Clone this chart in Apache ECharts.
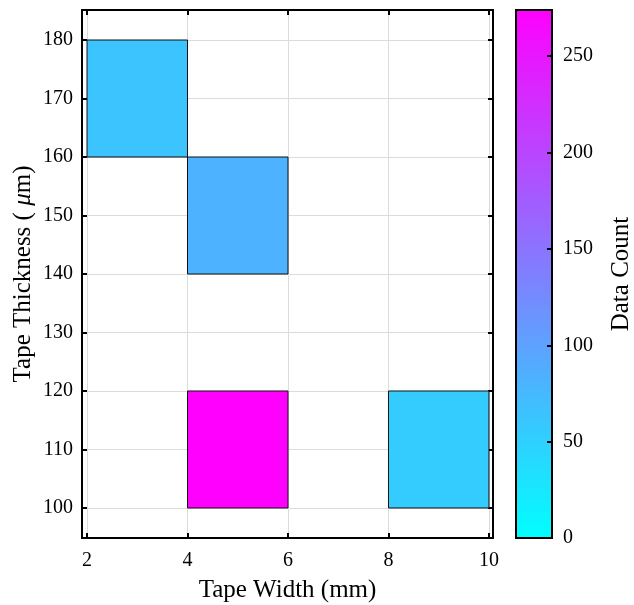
<!DOCTYPE html>
<html>
<head>
<meta charset="utf-8">
<script src="https://cdn.jsdelivr.net/npm/echarts@6/dist/echarts.min.js"></script>
<style>html,body{margin:0;padding:0;background:#fff}#c{width:634px;height:605px}</style>
</head>
<body>
<div id="c"></div>
<script>
// Data
const cellX0 = [2, 4, 4, 8];
const cellX1 = [4, 6, 6, 10];
const cellY0 = [160, 140, 100, 100];
const cellY1 = [180, 160, 120, 120];
const counts = [63, 83, 274, 56];
const xTicks = [2, 4, 6, 8, 10];
const yTicks = [100, 110, 120, 130, 140, 150, 160, 170, 180];
const cbTicks = [0, 50, 100, 150, 200, 250];
const cbMax = 274;

const FONT = 'Liberation Serif';
const cells = counts.map((v, i) => [cellX0[i], cellX1[i], cellY0[i], cellY1[i], v]);

const X_MIN = 1.9, X_MAX = 10.08, Y_MIN = 94.87, Y_MAX = 185.13;

function tick(vals) {
  return { show: true, inside: true, length: 5, customValues: vals, lineStyle: { color: '#000', width: 2 } };
}
const line = { show: true, onZero: false, lineStyle: { color: '#000', width: 2 } };

const chart = echarts.init(document.getElementById('c'), null, { renderer: 'canvas' });
chart.setOption({
  backgroundColor: '#fff',
  animation: false,
  grid: [
    { left: 82, top: 10, width: 411, height: 528, containLabel: false, outerBoundsMode: 'none' },
    { left: 516, top: 10, width: 36, height: 528, containLabel: false, outerBoundsMode: 'none' }
  ],
  visualMap: {
    type: 'continuous', show: false, min: 0, max: cbMax, dimension: 4, seriesIndex: 0,
    inRange: { color: ['#00ffff', '#ff00ff'] }
  },
  xAxis: [
    {
      type: 'value', gridIndex: 0, position: 'bottom', min: X_MIN, max: X_MAX,
      axisLine: line,
      axisTick: tick(xTicks),
      axisLabel: { show: true, customValues: xTicks, color: '#000', fontFamily: FONT, fontSize: 20, margin: 13 },
      splitLine: { show: true, lineStyle: { color: '#dcdcdc', width: 1 } },
      name: 'Tape Width (mm)', nameLocation: 'middle', nameGap: 40, nameMoveOverlap: false,
      nameTextStyle: { color: '#000', fontFamily: FONT, fontSize: 25 }
    },
    {
      type: 'value', gridIndex: 0, position: 'top', min: X_MIN, max: X_MAX,
      axisLine: line,
      axisTick: tick(xTicks),
      axisLabel: { show: false },
      splitLine: { show: false }
    },
    { type: 'value', gridIndex: 1, min: 0, max: 1, show: false }
  ],
  yAxis: [
    {
      type: 'value', gridIndex: 0, position: 'left', min: Y_MIN, max: Y_MAX,
      axisLine: line,
      axisTick: tick(yTicks),
      axisLabel: { show: true, customValues: yTicks, color: '#000', fontFamily: FONT, fontSize: 20, margin: 9 },
      splitLine: { show: true, lineStyle: { color: '#dcdcdc', width: 1 } },
      name: 'Tape Thickness ( {i|μ}m)', nameLocation: 'middle', nameGap: 46, nameRotate: 90, nameMoveOverlap: false,
      nameTextStyle: { color: '#000', fontFamily: FONT, fontSize: 25,
        rich: { i: { fontStyle: 'italic', fontFamily: FONT, fontSize: 25, color: '#000' } } }
    },
    {
      type: 'value', gridIndex: 0, position: 'right', min: Y_MIN, max: Y_MAX,
      axisLine: line,
      axisTick: tick(yTicks),
      axisLabel: { show: false },
      splitLine: { show: false }
    },
    {
      type: 'value', gridIndex: 1, position: 'right', min: 0, max: cbMax, z: 10,
      axisLine: line,
      axisTick: tick(cbTicks),
      axisLabel: { show: true, customValues: cbTicks, color: '#000', fontFamily: FONT, fontSize: 20, margin: 11 },
      splitLine: { show: false },
      name: 'Data Count', nameLocation: 'middle', nameGap: 57, nameRotate: 90, nameMoveOverlap: false,
      nameTextStyle: { color: '#000', fontFamily: FONT, fontSize: 25 }
    }
  ],
  series: [
    {
      type: 'custom',
      xAxisIndex: 0, yAxisIndex: 0,
      data: cells,
      encode: { x: [0, 1], y: [2, 3] },
      renderItem: function (params, api) {
        const p0 = api.coord([api.value(0), api.value(3)]);
        const p1 = api.coord([api.value(1), api.value(2)]);
        return {
          type: 'rect',
          shape: { x: p0[0], y: p0[1], width: p1[0] - p0[0], height: p1[1] - p0[1] },
          style: { fill: api.visual('color'), stroke: '#111', lineWidth: 1 }
        };
      },
      z: 3
    },
    {
      type: 'custom',
      xAxisIndex: 2, yAxisIndex: 2,
      data: [[0, 1, 0, cbMax]],
      encode: { x: [0, 1], y: [2, 3] },
      renderItem: function (params, api) {
        const p0 = api.coord([api.value(0), api.value(3)]);
        const p1 = api.coord([api.value(1), api.value(2)]);
        return {
          type: 'rect',
          shape: { x: p0[0], y: p0[1], width: p1[0] - p0[0], height: p1[1] - p0[1] },
          style: {
            fill: new echarts.graphic.LinearGradient(0, 1, 0, 0, [
              { offset: 0, color: '#00ffff' }, { offset: 1, color: '#ff00ff' }
            ]),
            stroke: '#000', lineWidth: 2
          }
        };
      },
      z: 1
    }
  ]
});
</script>
</body>
</html>
